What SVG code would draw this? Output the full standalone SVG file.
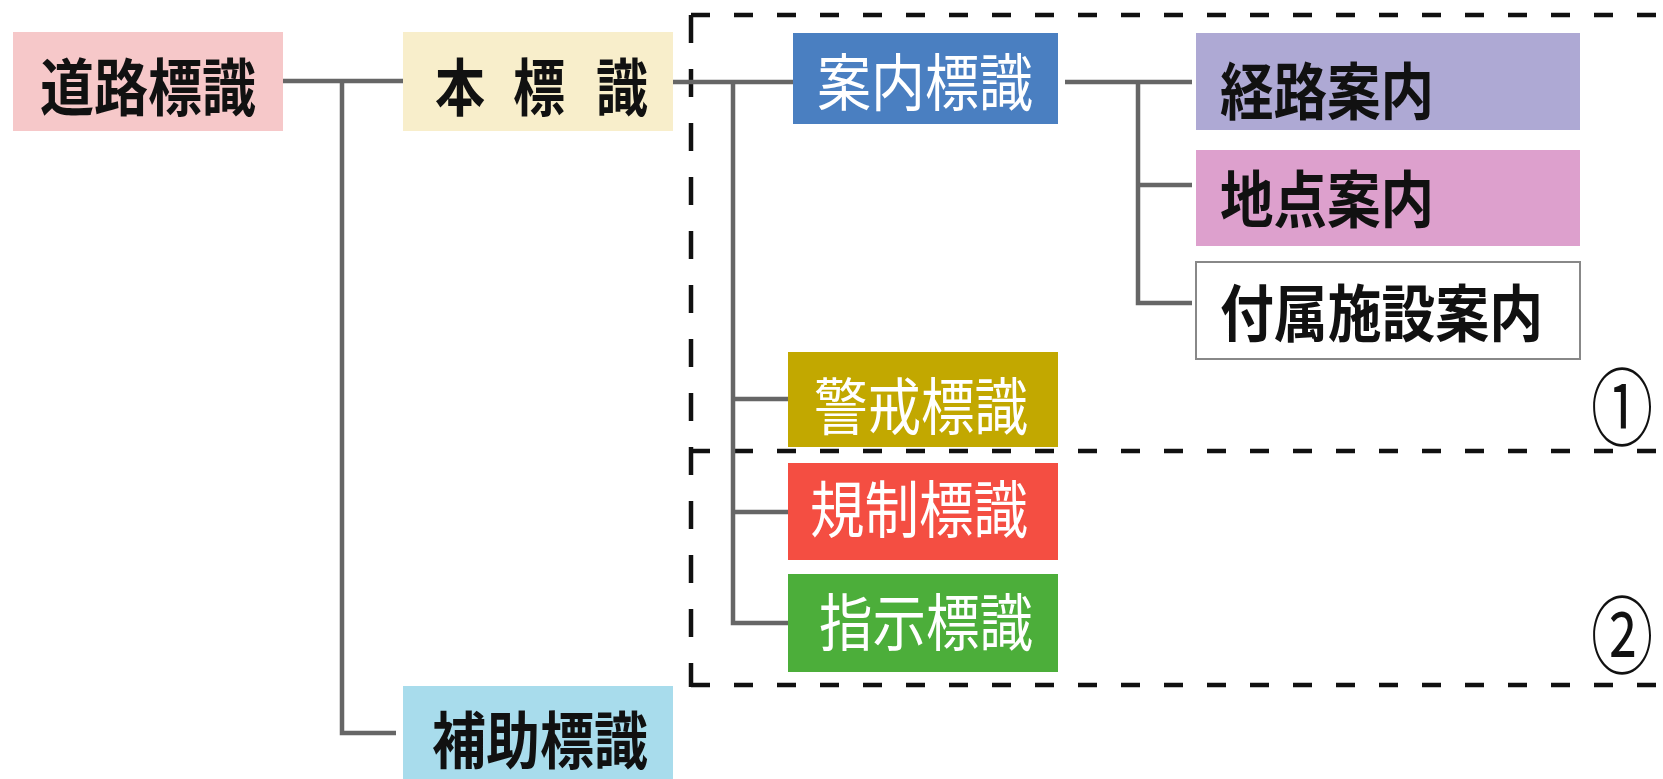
<svg xmlns="http://www.w3.org/2000/svg" width="1663" height="779" viewBox="0 0 1663 779">
<style>
text{font-family:"Noto Sans CJK JP","Noto Sans CJK SC",sans-serif;font-size:62px;dominant-baseline:central}
.dk{fill:#111;font-weight:700}
.wt{fill:#fff;font-weight:400}
.c{text-anchor:middle}
.conn{fill:none;stroke:#666;stroke-width:4.5}
.dh{fill:none;stroke:#111;stroke-width:4.5;stroke-dasharray:19 24}
.dv{fill:none;stroke:#111;stroke-width:4.5;stroke-dasharray:28 26}
.num{font-family:"Noto Sans CJK JP",sans-serif;font-size:84px;fill:#111;text-anchor:middle}
</style>
<rect width="1663" height="779" fill="#fff"/>
<g id="region-box">
<path class="dh" d="M691 15H1663"/>
<path class="dh" d="M691 451H1663"/>
<path class="dh" d="M691 685H1663"/>
<path class="dv" d="M691 15V687"/>
</g>
<g id="connectors">
<path class="conn" d="M283 81H403"/>
<path class="conn" d="M342 81V733H396"/>
<path class="conn" d="M673 82H793"/>
<path class="conn" d="M733 82V623H788"/>
<path class="conn" d="M733 399H788"/>
<path class="conn" d="M733 512H788"/>
<path class="conn" d="M1065 82H1192"/>
<path class="conn" d="M1138 82V303H1192"/>
<path class="conn" d="M1138 185H1192"/>
</g>
<g id="n-douro">
<rect x="13" y="32" width="270" height="99" fill="#f6c8c9"/>
<text class="dk c" x="148" y="84" textLength="216" lengthAdjust="spacingAndGlyphs">道路標識</text>
</g>
<g id="n-hon">
<rect x="403" y="32" width="270" height="99" fill="#f8eecb"/>
<text class="dk c" x="460" y="84" textLength="50" lengthAdjust="spacingAndGlyphs">本</text>
<text class="dk c" x="539" y="84" textLength="52" lengthAdjust="spacingAndGlyphs">標</text>
<text class="dk c" x="622" y="84" textLength="52" lengthAdjust="spacingAndGlyphs">識</text>
</g>
<g id="n-hojo">
<rect x="403" y="686" width="270" height="93" fill="#a8dcec"/>
<text class="dk c" x="540" y="737" textLength="216" lengthAdjust="spacingAndGlyphs">補助標識</text>
</g>
<g id="n-annai">
<rect x="793" y="33" width="265" height="91" fill="#4a7fc1"/>
<text class="wt c" x="925" y="79" textLength="216" lengthAdjust="spacingAndGlyphs">案内標識</text>
</g>
<g id="n-keikai">
<rect x="788" y="352" width="270" height="95" fill="#c2a800"/>
<text class="wt c" x="921" y="403" textLength="214" lengthAdjust="spacingAndGlyphs">警戒標識</text>
</g>
<g id="n-kisei">
<rect x="788" y="463" width="270" height="97" fill="#f44e42"/>
<text class="wt c" x="919" y="506" textLength="218" lengthAdjust="spacingAndGlyphs">規制標識</text>
</g>
<g id="n-shiji">
<rect x="788" y="574" width="270" height="98" fill="#4cae3a"/>
<text class="wt c" x="926" y="619" textLength="214" lengthAdjust="spacingAndGlyphs">指示標識</text>
</g>
<g id="n-keiro">
<rect x="1196" y="33" width="384" height="97" fill="#aea9d4"/>
<text class="dk" x="1220" y="88" textLength="214" lengthAdjust="spacingAndGlyphs">経路案内</text>
</g>
<g id="n-chiten">
<rect x="1196" y="150" width="384" height="96" fill="#dda0cd"/>
<text class="dk" x="1220" y="196" textLength="214" lengthAdjust="spacingAndGlyphs">地点案内</text>
</g>
<g id="n-fuzoku">
<rect x="1196" y="262" width="384" height="97" fill="#fff" stroke="#888" stroke-width="2"/>
<text class="dk" x="1220" y="310" textLength="323" lengthAdjust="spacingAndGlyphs">付属施設案内</text>
</g>
<g id="labels">
<text class="num" transform="translate(1622 402) scale(0.74 1)">①</text>
<text class="num" transform="translate(1622 630) scale(0.74 1)">②</text>
</g>
</svg>
